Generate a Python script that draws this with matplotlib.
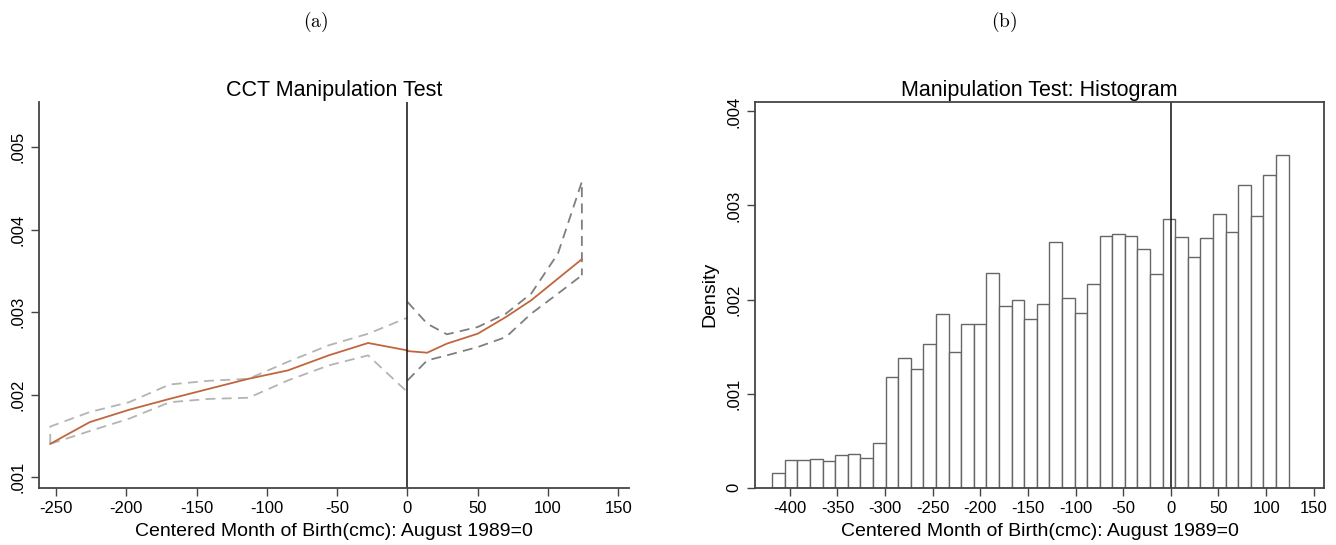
import matplotlib.pyplot as plt
import numpy as np

plt.rcParams['font.family'] = ['Liberation Sans', 'DejaVu Sans']
plt.rcParams['mathtext.fontset'] = 'cm'
plt.rcParams['axes.unicode_minus'] = False

# Panel (a): CCT density estimate with confidence bands
left_x = [-254, -226, -198, -169, -141, -113, -85, -56, -28, 0]
left_fit = [0.001405, 0.001668, 0.001818, 0.001951, 0.002073, 0.002194, 0.002296, 0.002478, 0.002628, 0.002538]
left_hi = [0.001615, 0.00179, 0.00191, 0.002125, 0.00217, 0.002194, 0.0024, 0.0026, 0.00274, 0.002935]
left_lo = [0.001405, 0.00156, 0.00171, 0.00191, 0.00195, 0.001964, 0.002174, 0.002356, 0.002478, 0.002032]

right_x = [0, 14, 28, 50, 70, 88, 107, 124]
right_fit = [0.00253, 0.00251, 0.00262, 0.002741, 0.002943, 0.003146, 0.003409, 0.003644]
right_hi = [0.003126, 0.002862, 0.002733, 0.002822, 0.002984, 0.003227, 0.003713, 0.004583]
right_lo = [0.002174, 0.002417, 0.002478, 0.002579, 0.0027, 0.002984, 0.003227, 0.003449]

# Panel (b): histogram densities
hist_start = -418.4
hist_width = 13.22
hist_density = [0.000152, 0.000294, 0.000294, 0.000301, 0.000284, 0.000348, 0.000355, 0.000319,
                0.000471, 0.00118, 0.001376, 0.001258, 0.001523, 0.001847, 0.00144, 0.001738,
                0.001741, 0.002287, 0.001936, 0.001996, 0.001794, 0.00195, 0.00261, 0.002014,
                0.001855, 0.002167, 0.002677, 0.002699, 0.002677, 0.002535, 0.002273, 0.002855,
                0.00266, 0.002447, 0.002652, 0.002908, 0.002723, 0.003216, 0.00289, 0.003326,
                0.003532]

left_ticks = [-250, -200, -150, -100, -50, 0, 50, 100, 150]
left_yticks = [0.001, 0.002, 0.003, 0.004, 0.005]
left_ylabels = ['.001', '.002', '.003', '.004', '.005']
right_ticks = [-400, -350, -300, -250, -200, -150, -100, -50, 0, 50, 100, 150]
right_yticks = [0, 0.001, 0.002, 0.003, 0.004]
right_ylabels = ['0', '.001', '.002', '.003', '.004']

xlabel = 'Centered Month of Birth(cmc): August 1989=0'
axis_col = '#444444'

fig = plt.figure(figsize=(13.36, 5.45), dpi=100)

# ---- panel (a)
ax1 = fig.add_axes([0.0292, 0.1046, 0.4416, 0.7083])
light = '#b4b4b4'
dark = '#7f7f7f'
orange = '#c0663f'
dash = (5.5, 3.5)
ax1.plot([left_x[0]] + left_x, [left_lo[0]] + left_hi, color=light, lw=1.3, dashes=dash)
ax1.plot(left_x, left_lo, color=light, lw=1.3, dashes=dash)
ax1.plot(right_x + [right_x[-1]], right_hi + [right_lo[-1]], color=dark, lw=1.3, dashes=dash)
ax1.plot(right_x, right_lo, color=dark, lw=1.3, dashes=dash)
ax1.plot(left_x, left_fit, color=orange, lw=1.3)
ax1.plot(right_x, right_fit, color=orange, lw=1.3)
ax1.axvline(0, color='#222222', lw=1.2)
ax1.set_xlim(-262, 157.5)
ax1.set_ylim(0.00087, 0.00555)
ax1.set_xticks(left_ticks)
ax1.set_yticks(left_yticks)
ax1.set_yticklabels(left_ylabels, rotation=90, va='center')
ax1.spines['top'].set_visible(False)
ax1.spines['right'].set_visible(False)
ax1.set_title('CCT Manipulation Test', fontsize=15.5, pad=4)
ax1.set_xlabel(xlabel, fontsize=14, labelpad=5)

# ---- panel (b)
ax2 = fig.add_axes([0.5651, 0.1052, 0.4261, 0.7077])
edges = hist_start + hist_width * np.arange(len(hist_density))
ax2.bar(edges, hist_density, width=hist_width, align='edge', facecolor='white',
        edgecolor='#666666', linewidth=1.0)
ax2.axvline(0, color='#222222', lw=1.2)
ax2.set_xlim(-436.5, 161)
ax2.set_ylim(0, 0.0041)
ax2.set_xticks(right_ticks)
ax2.set_yticks(right_yticks)
ax2.set_yticklabels(right_ylabels, rotation=90, va='center')
ax2.set_title('Manipulation Test: Histogram', fontsize=15.5, pad=4)
ax2.set_xlabel(xlabel, fontsize=14, labelpad=5)
ax2.set_ylabel('Density', fontsize=14, labelpad=6)

for ax in (ax1, ax2):
    for sp in ax.spines.values():
        sp.set_color(axis_col)
        sp.set_linewidth(1.3)
    ax.tick_params(colors=axis_col, labelcolor='black', labelsize=12, length=6, width=1.0)

fig.text(316 / 1336, 1 - 22 / 545, r'$\mathrm{(a)}$', ha='center', va='center', fontsize=14)
fig.text(1004 / 1336, 1 - 22 / 545, r'$\mathrm{(b)}$', ha='center', va='center', fontsize=14)

fig.savefig('out.png', dpi=100)
